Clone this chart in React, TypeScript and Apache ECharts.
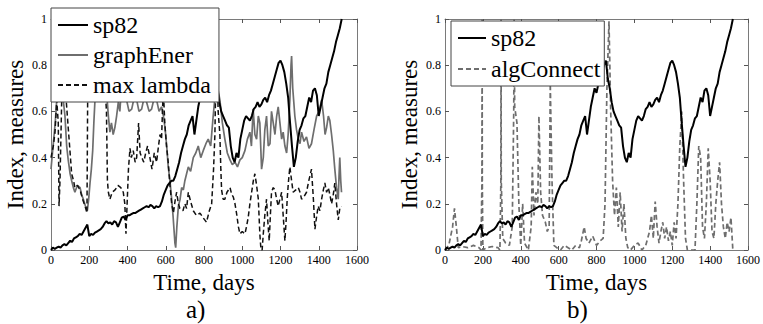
import React, { useEffect, useRef } from "react";
import * as echarts from "echarts";

// ---------- data ----------
const spDays = [
  0, 10, 20, 30, 40, 50, 60, 70, 80, 90, 100, 110, 120, 130, 140, 150, 160, 170, 180, 190,
  200, 210, 220, 230, 240, 250, 260, 270, 280, 290, 300, 310, 320, 330, 340, 350, 360, 370, 380, 390,
  400, 410, 420, 430, 440, 450, 460, 470, 480, 490, 500, 510, 520, 530, 540, 550, 560, 570, 580, 590,
  600, 610, 620, 630, 640, 650, 660, 670, 680, 690, 700, 710, 720, 730, 740, 750, 760, 770, 780, 790,
  800, 810, 820, 830, 840, 850, 860, 870, 880, 890, 900, 910, 920, 930, 940, 950, 960, 970, 980, 990,
  1000, 1010, 1020, 1030, 1040, 1050, 1060, 1070, 1080, 1090, 1100, 1110, 1120, 1130, 1140, 1150, 1160, 1170, 1180, 1190,
  1200, 1210, 1220, 1230, 1240, 1250, 1260, 1270, 1280, 1290, 1300, 1310, 1320, 1330, 1340, 1350, 1360, 1370, 1380, 1390,
  1400, 1410, 1420, 1430, 1440, 1450, 1460, 1470, 1480, 1490, 1500, 1510, 1520,
];
const sp82 = [
  0.0, 0.01, 0.005, 0.01, 0.015, 0.01, 0.02, 0.025, 0.02, 0.03, 0.04, 0.035, 0.05, 0.055, 0.06, 0.07, 0.065, 0.08, 0.095, 0.11,
  0.06, 0.07, 0.065, 0.075, 0.08, 0.085, 0.09, 0.1, 0.115, 0.125, 0.115, 0.12, 0.11, 0.125, 0.12, 0.1, 0.12, 0.14, 0.145, 0.13,
  0.15, 0.15, 0.155, 0.16, 0.16, 0.165, 0.17, 0.175, 0.18, 0.185, 0.19, 0.185, 0.195, 0.19, 0.18, 0.19, 0.185, 0.19, 0.21, 0.24,
  0.26, 0.28, 0.29, 0.3, 0.3, 0.32, 0.35, 0.38, 0.42, 0.45, 0.48, 0.5, 0.54, 0.56, 0.58, 0.5, 0.56, 0.62, 0.66, 0.7,
  0.68, 0.72, 0.75, 0.78, 0.8, 0.82, 0.74, 0.7, 0.64, 0.6, 0.58, 0.56, 0.54, 0.53, 0.45, 0.4, 0.38, 0.42, 0.4, 0.48,
  0.52, 0.56, 0.58, 0.57, 0.56, 0.58, 0.61, 0.62, 0.64, 0.62, 0.63, 0.65, 0.66, 0.64, 0.67, 0.69, 0.72, 0.75, 0.78, 0.81,
  0.82, 0.8, 0.77, 0.72, 0.66, 0.55, 0.45, 0.36, 0.4, 0.47, 0.52, 0.54, 0.57, 0.58, 0.62, 0.66, 0.64, 0.69, 0.7, 0.67,
  0.58, 0.62, 0.66, 0.7, 0.72, 0.77, 0.8, 0.83, 0.86, 0.9, 0.93, 0.96, 1.0,
];

const geDays = [
  0, 12, 22, 30, 40, 47, 60, 73, 82, 90, 100, 108, 117, 125, 138, 152, 160, 169, 180, 190,
  197, 204, 211, 218, 224, 230, 240, 256, 272, 291, 300, 308, 316, 325, 334, 343, 352, 360, 369, 380,
  395, 408, 422, 435, 448, 460, 474, 487, 500, 513, 526, 540, 552, 565, 578, 588, 596, 605, 613, 622,
  631, 638, 643, 648, 652, 658, 666, 675, 683, 692, 700, 709, 718, 730, 744, 757, 770, 783, 796, 810,
  822, 835, 848, 856, 862, 866, 872, 883, 896, 909, 922, 936, 948, 962, 975, 988, 1000, 1014, 1027, 1040,
  1048, 1057, 1066, 1075, 1084, 1092, 1101, 1110, 1118, 1127, 1136, 1145, 1153, 1162, 1171, 1180, 1188, 1197, 1206, 1214,
  1223, 1232, 1240, 1249, 1255, 1258, 1264, 1275, 1284, 1293, 1302, 1310, 1323, 1336, 1349, 1362, 1375, 1389, 1402, 1415,
  1425, 1433, 1441, 1450, 1458, 1467, 1476, 1484, 1493, 1502, 1506, 1510, 1515, 1519,
];
const graphEner = [
  0.35, 0.46, 0.55, 0.65, 0.75, 0.72, 0.68, 0.58, 0.45, 0.39, 0.33, 0.3, 0.27, 0.25, 0.28, 0.27, 0.24, 0.22, 0.19, 0.17,
  0.22, 0.29, 0.35, 0.43, 0.55, 0.65, 0.75, 0.8, 0.74, 0.68, 0.58, 0.51, 0.55, 0.5, 0.53, 0.58, 0.64, 0.6, 0.71, 0.68,
  0.65, 0.6, 0.61, 0.66, 0.65, 0.6, 0.61, 0.66, 0.64, 0.6, 0.61, 0.66, 0.65, 0.6, 0.62, 0.58, 0.53, 0.45, 0.36, 0.3,
  0.22, 0.15, 0.09, 0.03, 0.01, 0.1, 0.19, 0.22, 0.27, 0.26, 0.3, 0.33, 0.36, 0.34, 0.4, 0.42, 0.45, 0.4, 0.43, 0.46,
  0.48, 0.45, 0.58, 0.65, 0.78, 0.84, 0.7, 0.65, 0.55, 0.48, 0.42, 0.39, 0.37, 0.38, 0.36, 0.39, 0.4, 0.43, 0.48, 0.51,
  0.45, 0.61, 0.5, 0.48, 0.58, 0.55, 0.35, 0.4, 0.52, 0.58, 0.45, 0.46, 0.6, 0.55, 0.5, 0.58, 0.62, 0.55, 0.48, 0.51,
  0.45, 0.42, 0.5, 0.65, 0.8, 0.84, 0.7, 0.58, 0.52, 0.48, 0.46, 0.51, 0.47, 0.49, 0.44, 0.46, 0.52, 0.58, 0.6, 0.65,
  0.58, 0.5, 0.53, 0.58, 0.56, 0.5, 0.43, 0.35, 0.27, 0.22, 0.32, 0.4, 0.3, 0.25,
];

const mlDays = [
  0, 12, 21, 30, 38, 42, 47, 56, 65, 73, 82, 90, 100, 108, 118, 125, 138, 152, 165, 178,
  188, 192, 197, 204, 210, 225, 245, 265, 283, 290, 295, 300, 308, 320, 335, 350, 365, 378, 386, 392,
  398, 405, 413, 420, 430, 440, 448, 458, 466, 475, 485, 495, 505, 517, 528, 540, 552, 562, 570, 578,
  587, 595, 604, 613, 622, 631, 640, 650, 657, 666, 674, 690, 700, 709, 718, 730, 744, 760, 779, 795,
  813, 828, 840, 850, 857, 862, 868, 874, 883, 888, 892, 900, 909, 920, 936, 945, 953, 962, 970, 980,
  988, 1000, 1014, 1022, 1031, 1040, 1049, 1058, 1066, 1075, 1084, 1092, 1098, 1104, 1110, 1118, 1127, 1134, 1141, 1147,
  1153, 1162, 1171, 1180, 1188, 1197, 1206, 1214, 1223, 1229, 1235, 1242, 1249, 1258, 1266, 1280, 1293, 1302, 1310, 1322,
  1336, 1348, 1362, 1372, 1380, 1388, 1397, 1406, 1415, 1424, 1432, 1441, 1450, 1458, 1467, 1476, 1484, 1493, 1502, 1510,
  1519,
];
const maxLambda = [
  0.4, 0.45, 0.51, 0.65, 0.55, 0.19, 0.3, 0.65, 0.75, 0.72, 0.62, 0.53, 0.42, 0.33, 0.3, 0.27, 0.28, 0.26, 0.22, 0.19,
  0.16, 0.7, 0.75, 0.72, 0.8, 0.85, 0.8, 0.75, 0.7, 0.6, 0.3, 0.25, 0.22, 0.25, 0.26, 0.28, 0.27, 0.25, 0.2, 0.07,
  0.2, 0.35, 0.44, 0.4, 0.43, 0.38, 0.4, 0.55, 0.42, 0.4, 0.38, 0.42, 0.45, 0.4, 0.35, 0.42, 0.38, 0.45, 0.5, 0.48,
  0.7, 0.55, 0.45, 0.38, 0.28, 0.2, 0.16, 0.22, 0.25, 0.2, 0.18, 0.17, 0.2, 0.18, 0.25, 0.21, 0.17, 0.15, 0.16, 0.14,
  0.12, 0.17, 0.2, 0.35, 0.5, 0.75, 0.8, 0.6, 0.5, 0.35, 0.26, 0.22, 0.22, 0.25, 0.27, 0.24, 0.23, 0.2, 0.16, 0.1,
  0.07, 0.08, 0.07, 0.1, 0.14, 0.2, 0.25, 0.3, 0.33, 0.28, 0.22, 0.07, 0.0, 0.0, 0.07, 0.15, 0.22, 0.12, 0.04, 0.15,
  0.25, 0.27, 0.26, 0.22, 0.19, 0.22, 0.25, 0.15, 0.04, 0.12, 0.22, 0.3, 0.36, 0.3, 0.25, 0.26, 0.27, 0.25, 0.22, 0.23,
  0.25, 0.3, 0.35, 0.22, 0.09, 0.14, 0.19, 0.17, 0.22, 0.26, 0.29, 0.25, 0.27, 0.24, 0.2, 0.24, 0.29, 0.2, 0.13, 0.18,
  0.19,
];

const acDays = [
  0, 20, 40, 50, 60, 70, 90, 120, 150, 180, 190, 195, 196, 197, 200, 220, 250, 280, 290, 295,
  296, 297, 305, 320, 340, 355, 363, 365, 368, 370, 380, 390, 400, 410, 420, 440, 455, 461, 470, 480,
  490, 496, 505, 515, 530, 540, 550, 556, 565, 575, 590, 610, 630, 650, 670, 690, 710, 720, 735, 745,
  760, 780, 800, 820, 835, 845, 855, 866, 875, 885, 895, 905, 915, 925, 935, 945, 955, 965, 980, 1000,
  1020, 1040, 1060, 1080, 1090, 1100, 1110, 1120, 1130, 1140, 1150, 1160, 1170, 1180, 1190, 1200, 1210, 1220, 1230, 1240,
  1250, 1260, 1270, 1280, 1300, 1320, 1330, 1340, 1350, 1360, 1370, 1380, 1390, 1400, 1410, 1420, 1430, 1440, 1450, 1460,
  1470, 1480, 1490, 1500, 1510, 1520,
];
const algConnect = [
  0.0, 0.02, 0.1, 0.18, 0.1, 0.01, 0.015, 0.01, 0.02, 0.01, 0.0, 0.3, 1.0, 0.3, 0.0, 0.01, 0.015, 0.01, 0.0, 0.3,
  1.0, 0.3, 0.05, 0.03, 0.02, 0.1, 0.6, 1.0, 0.62, 0.62, 0.55, 0.2, 0.02, 0.2, 0.03, 0.0, 0.1, 0.36, 0.15, 0.25,
  0.2, 0.58, 0.25, 0.15, 0.12, 0.08, 0.1, 0.72, 0.3, 0.02, 0.01, 0.0, 0.02, 0.01, 0.0, 0.02, 0.01, 0.04, 0.1, 0.05,
  0.03, 0.06, 0.02, 0.04, 0.05, 0.2, 0.7, 0.99, 0.6, 0.3, 0.15, 0.27, 0.1, 0.25, 0.08, 0.2, 0.05, 0.01, 0.0, 0.02,
  0.03, 0.0, 0.02, 0.08, 0.15, 0.05, 0.21, 0.1, 0.03, 0.08, 0.12, 0.05, 0.1, 0.04, 0.08, 0.02, 0.12, 0.05, 0.2, 0.45,
  0.6, 0.3, 0.05, 0.0, 0.0, 0.0, 0.2, 0.45, 0.4, 0.1, 0.05, 0.2, 0.44, 0.3, 0.08, 0.05, 0.2, 0.3, 0.38, 0.2,
  0.1, 0.05, 0.12, 0.08, 0.14, 0.0,
];

const xTicks = { min: 0, max: 1600, interval: 200 };
const yTicks = { min: 0, max: 1, interval: 0.2 };

const pairs = (xs: number[], ys: number[]) => xs.map((x, i) => [x, ys[i]]);

const FONT = "Liberation Serif";
const FRAME = "#7a7a7a";

function makeAxes(grid: number) {
  const tick = { show: true, inside: true, length: 4, lineStyle: { color: "#555", width: 1 } };
  const line = { show: true, onZero: false, lineStyle: { color: FRAME, width: 1 } };
  const lab = { fontFamily: FONT, fontSize: 12, color: "#000", margin: 4 };
  return {
    x: [
      { type: "value", gridIndex: grid, position: "bottom", ...xTicks, axisLine: line, axisTick: tick,
        splitLine: { show: false }, axisLabel: { ...lab, formatter: (v: number) => String(v) },
        name: "Time, days", nameLocation: "middle", nameGap: 11,
        nameTextStyle: { fontFamily: FONT, fontSize: 23, color: "#000", fontWeight: "normal" } },
      { type: "value", gridIndex: grid, position: "top", ...xTicks, axisLine: line, axisTick: tick,
        splitLine: { show: false }, axisLabel: { show: false } },
    ],
    y: [
      { type: "value", gridIndex: grid, position: "left", ...yTicks, axisLine: line, axisTick: tick,
        splitLine: { show: false }, axisLabel: { ...lab, formatter: (v: number) => String(+v.toFixed(1)) },
        name: "Index, measures", nameLocation: "middle", nameGap: 24,
        nameTextStyle: { fontFamily: FONT, fontSize: 23, color: "#000", fontWeight: "normal" } },
      { type: "value", gridIndex: grid, position: "right", ...yTicks, axisLine: line, axisTick: tick,
        splitLine: { show: false }, axisLabel: { show: false } },
    ],
  };
}

export default function App() {
  const ref = useRef<HTMLDivElement>(null);
  useEffect(() => {
    if (!ref.current) return;
    const chart = echarts.init(ref.current, null, { renderer: "svg" });
    const a = makeAxes(0);
    const b = makeAxes(1);
    const legendCommon = {
      orient: "vertical",
      itemWidth: 30,
      itemHeight: 14,
      itemGap: 6,
      backgroundColor: "#fff",
      borderColor: "#444",
      borderWidth: 1,
      borderRadius: 0,
      selectedMode: false,
      itemStyle: { opacity: 0, color: "transparent", borderColor: "transparent", borderWidth: 0 },
      textStyle: { fontFamily: FONT, fontSize: 24, color: "#000", fontWeight: "normal" },
    };
    chart.setOption({
      animation: false,
      backgroundColor: "#fff",
      textStyle: { fontFamily: FONT },
      grid: [
        { left: 51, top: 19, width: 306, height: 231, show: false },
        { left: 445, top: 19, width: 306, height: 231, show: false },
      ],
      xAxis: [...a.x, ...b.x],
      yAxis: [...a.y, ...b.y],
      legend: [
        { ...legendCommon, left: 51, top: 8, padding: [5, 8, 5, 6], data: ["sp82", "graphEner", "max lambda"] },
        { ...legendCommon, left: 451, top: 21, itemWidth: 28, itemGap: 7, padding: [5, 4, 5, 6], data: ["sp82", "algConnect"] },
      ],
      series: [
        { name: "graphEner", type: "line", xAxisIndex: 0, yAxisIndex: 0, symbol: "none",
          data: pairs(geDays, graphEner), lineStyle: { color: "#6e6e6e", width: 1.7 }, itemStyle: { color: "#6e6e6e" } },
        { name: "max lambda", type: "line", xAxisIndex: 0, yAxisIndex: 0, symbol: "none",
          data: pairs(mlDays, maxLambda), lineStyle: { color: "#111", width: 1.5, type: [5, 3] }, itemStyle: { color: "#111" } },
        { name: "sp82", type: "line", xAxisIndex: 0, yAxisIndex: 0, symbol: "none",
          data: pairs(spDays, sp82), lineStyle: { color: "#000", width: 2 }, itemStyle: { color: "#000" } },
        { name: "algConnect", type: "line", xAxisIndex: 2, yAxisIndex: 2, symbol: "none",
          data: pairs(acDays, algConnect), lineStyle: { color: "#6e6e6e", width: 1.7, type: [5, 3] }, itemStyle: { color: "#6e6e6e" } },
        { name: "sp82", type: "line", xAxisIndex: 2, yAxisIndex: 2, symbol: "none",
          data: pairs(spDays, sp82), lineStyle: { color: "#000", width: 2 }, itemStyle: { color: "#000" } },
      ],
      graphic: [
        { type: "text", left: 186, top: 297, style: { text: "a)", fontFamily: FONT, fontSize: 25, fill: "#000" } },
        { type: "text", left: 567, top: 297, style: { text: "b)", fontFamily: FONT, fontSize: 25, fill: "#000" } },
      ],
    });
    return () => chart.dispose();
  }, []);
  return (
    <div
      ref={ref}
      style={{ position: "absolute", left: 0, top: 0, width: 763, height: 324, background: "#fff" }}
    />
  );
}
